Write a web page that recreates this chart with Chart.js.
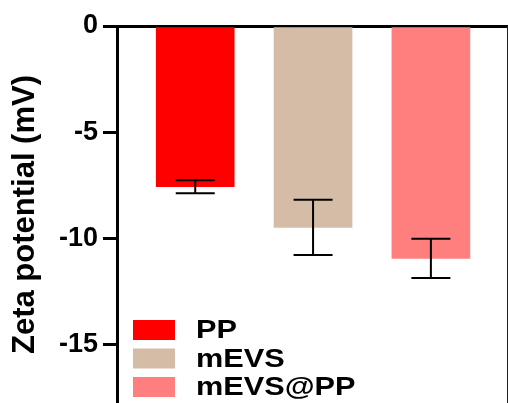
<!DOCTYPE html>
<html>
<head>
<meta charset="utf-8">
<script src="https://cdn.jsdelivr.net/npm/chart.js@4.4.1/dist/chart.umd.min.js"></script>
<style>
  html, body { margin: 0; padding: 0; background: #fff; }
  #wrap { width: 508px; height: 403px; position: relative; }
</style>
</head>
<body>
<div id="wrap"><canvas id="zeta"></canvas></div>
<script>
// dados
const categories = ['PP', 'mEVS', 'mEVS@PP'];
const zetaMeans = [-7.56, -9.47, -10.93];
const zetaErrors = [0.31, 1.30, 0.92];
const positions = [1, 2, 3];

const barColors = ['#FF0000', '#D5BCA7', '#FF7F7F'];

// barras de erro desenhadas por cima das barras
const errorBars = {
    id: 'errorBars',
    afterDatasetsDraw(chart) {
        const ctx = chart.ctx;
        const y = chart.scales.y;
        const meta = chart.getDatasetMeta(0);
        ctx.save();
        ctx.strokeStyle = '#000';
        ctx.lineWidth = 2;
        meta.data.forEach((bar, i) => {
            const yTop = y.getPixelForValue(zetaMeans[i] + zetaErrors[i]);
            const yBot = y.getPixelForValue(zetaMeans[i] - zetaErrors[i]);
            const half = 19.5;
            ctx.beginPath();
            ctx.moveTo(bar.x, yTop);
            ctx.lineTo(bar.x, yBot);
            ctx.moveTo(bar.x - half, yTop);
            ctx.lineTo(bar.x + half, yTop);
            ctx.moveTo(bar.x - half, yBot);
            ctx.lineTo(bar.x + half, yBot);
            ctx.stroke();
        });
        ctx.restore();
    }
};

// legenda dentro da área do gráfico + borda direita
const legendaInterna = {
    id: 'legendaInterna',
    afterDraw(chart) {
        const ctx = chart.ctx;
        const area = chart.chartArea;
        ctx.save();
        ctx.strokeStyle = '#222';
        ctx.lineWidth = 1;
        ctx.beginPath();
        ctx.moveTo(area.right + 0.5, area.top);
        ctx.lineTo(area.right + 0.5, chart.height);
        ctx.stroke();

        const x0 = area.left + 16;
        const y0 = 320;
        const step = 28.5;
        ctx.font = 'bold 26px "Liberation Sans", Arial, sans-serif';
        ctx.textBaseline = 'middle';
        ctx.fillStyle = '#000';
        categories.forEach((name, i) => {
            const yy = y0 + i * step;
            ctx.fillStyle = barColors[i];
            ctx.fillRect(x0, yy, 42, 20);
            ctx.fillStyle = '#000';
            ctx.save();
            ctx.translate(x0 + 63, yy + 11);
            ctx.scale(1.18, 1);
            ctx.fillText(name, 0, 0);
            ctx.restore();
        });
        ctx.restore();
    }
};

const ctx = document.getElementById('zeta').getContext('2d');
new Chart(ctx, {
    type: 'bar',
    data: {
        labels: categories,
        datasets: [{
            label: 'Zeta potential',
            data: positions.map((p, i) => ({ x: p, y: zetaMeans[i] })),
            backgroundColor: barColors,
            borderWidth: 0,
            barThickness: 78
        }]
    },
    options: {
        responsive: true,
        maintainAspectRatio: false,
        animation: false,
        layout: { padding: { top: 26, right: 1, bottom: 0, left: 0 } },
        plugins: {
            legend: { display: false },
            tooltip: { enabled: false }
        },
        scales: {
            x: {
                type: 'linear',
                position: 'top',
                offset: false,
                min: 0.336,
                max: 3.646,
                ticks: { display: false },
                grid: { display: false, drawTicks: false, offset: false },
                border: { display: true, color: '#000', width: 3 }
            },
            y: {
                min: -17.73,
                max: 0,
                ticks: {
                    stepSize: 5,
                    includeBounds: false,
                    color: '#000',
                    padding: 5,
                    font: { family: '"Liberation Sans", Arial, sans-serif', size: 27, weight: 'bold' }
                },
                grid: {
                    drawOnChartArea: false,
                    drawTicks: true,
                    tickLength: 14,
                    lineWidth: 3,
                    color: '#000'
                },
                border: { display: true, color: '#000', width: 3 },
                title: {
                    display: true,
                    text: 'Zeta potential (mV)',
                    color: '#000',
                    padding: { top: 7, bottom: 0 },
                    font: { family: '"Liberation Sans", Arial, sans-serif', size: 31, weight: 'bold' }
                },
                afterFit(scale) {
                    scale.width = 117;
                    scale.paddingTop = 0;
                    scale.paddingBottom = 0;
                }
            }
        }
    },
    plugins: [errorBars, legendaInterna]
});
</script>
</body>
</html>
